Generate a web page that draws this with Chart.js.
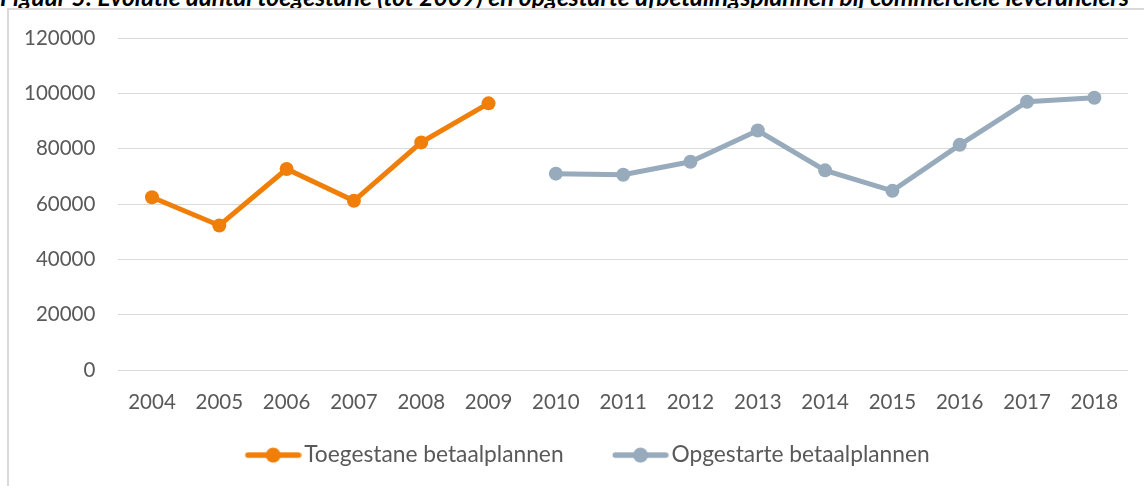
<!DOCTYPE html>
<html><head><meta charset="utf-8">
<script src="https://cdn.jsdelivr.net/npm/chart.js@4"></script>
<style>
html,body{margin:0;padding:0;background:#fff;overflow:hidden;width:1144px;height:486px;}
#title{position:absolute;left:0;top:-13px;white-space:nowrap;font-family:Lato,"Liberation Sans",sans-serif;font-weight:bold;font-style:italic;font-size:20px;line-height:20px;color:#000;}
#frame{position:absolute;left:7px;top:8px;width:1200px;height:600px;border-left:2px solid #d9d9d9;border-top:2px solid #d9d9d9;}
#wrap{position:absolute;left:0;top:0;width:1144px;height:486px;}
</style></head><body>
<div id="title">Figuur 5: Evolutie aantal toegestane (tot 2009) en opgestarte afbetalingsplannen bij commerciële leveranciers</div>
<div id="frame"></div>
<div id="wrap"><canvas id="c"></canvas></div>
<script>
const years = ['2004','2005','2006','2007','2008','2009','2010','2011','2012','2013','2014','2015','2016','2017','2018'];
const toegestane = [62500, 52300, 72700, 61200, 82300, 96400, null, null, null, null, null, null, null, null, null];
const opgestarte = [null, null, null, null, null, null, 71000, 70600, 75300, 86600, 72200, 64800, 81400, 97000, 98400];
const seriesNames = ['Toegestane betaalplannen', 'Opgestarte betaalplannen'];
const yMin = 0, yMax = 120000, yStep = 20000;

const ORANGE = '#F07F09', GREY = '#97ABBC';
const FONT = 'Lato, "Liberation Sans", sans-serif';
const FS = 20.5, LFS = 22.75;

const t = document.getElementById('title');
t.style.fontSize = (20 * 1130 / t.scrollWidth) + 'px';

function legendImg(color){
  const c = document.createElement('canvas');
  c.width = 104; c.height = 18;
  const g = c.getContext('2d');
  g.strokeStyle = color; g.lineWidth = 5.5; g.lineCap = 'round';
  g.beginPath(); g.moveTo(50.4, 9); g.lineTo(100.9, 9); g.stroke();
  g.fillStyle = color; g.beginPath(); g.arc(75.65, 9, 7.5, 0, Math.PI*2); g.fill();
  return c;
}
const legendImgs = [legendImg(ORANGE), legendImg(GREY)];

const legendShift = {
  id: 'legendShift',
  afterLayout(chart){ const l = chart.legend; if (l) { l.left += 3.5; l.right += 3.5; } }
};

new Chart(document.getElementById('c'), {
  type: 'line',
  data: {
    labels: years,
    datasets: [
      {label: seriesNames[0], data: toegestane, borderColor: ORANGE, backgroundColor: ORANGE,
       borderWidth: 5, pointRadius: 7, pointHoverRadius: 7, pointBorderWidth: 0, pointBackgroundColor: ORANGE, spanGaps: false, tension: 0},
      {label: seriesNames[1], data: opgestarte, borderColor: GREY, backgroundColor: GREY,
       borderWidth: 5, pointRadius: 7, pointHoverRadius: 7, pointBorderWidth: 0, pointBackgroundColor: GREY, spanGaps: false, tension: 0}
    ]
  },
  plugins: [legendShift],
  options: {
    responsive: true, maintainAspectRatio: false, animation: false,
    layout: {padding: {left: 1, right: 16, top: 38, bottom: 9.5}},
    scales: {
      x: {
        offset: true,
        grid: {display: false, offset: true}, border: {display: false},
        ticks: {color: '#595959', font: {family: FONT, size: FS}, padding: 12, maxRotation: 0, autoSkip: false},
        afterFit(s){ s.height = 63.5; }
      },
      y: {
        min: yMin, max: yMax,
        grid: {color: '#d9d9d9', lineWidth: 1, drawTicks: false}, border: {display: false},
        ticks: {stepSize: yStep, color: '#595959', font: {family: FONT, size: FS}, padding: 23, callback: v => String(v)}
      }
    },
    plugins: {
      tooltip: {enabled: false},
      legend: {
        position: 'bottom',
        labels: {
          usePointStyle: true, pointStyleWidth: 86.5, padding: 10,
          color: '#595959', font: {family: FONT, size: LFS},
          generateLabels(chart){
            const items = Chart.defaults.plugins.legend.labels.generateLabels(chart);
            items.forEach((it, i) => { it.pointStyle = legendImgs[i]; });
            return items;
          }
        }
      }
    }
  }
});
</script>
</body></html>
